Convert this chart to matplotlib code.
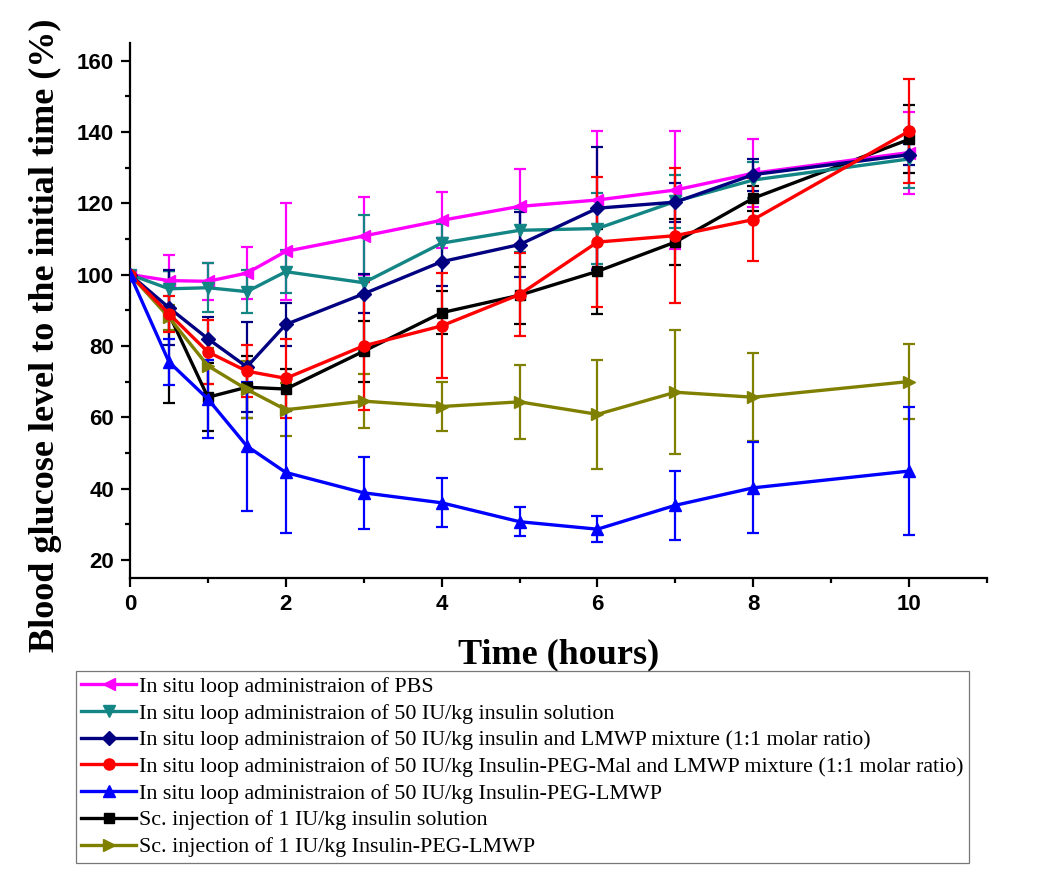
import matplotlib
matplotlib.use("Agg")
import matplotlib.pyplot as plt
from matplotlib.ticker import MultipleLocator

time_h = [0, 0.5, 1, 1.5, 2, 3, 4, 5, 6, 7, 8, 10]

labels = [
    "In situ loop administraion of PBS",
    "In situ loop administraion of 50 IU/kg insulin solution",
    "In situ loop administraion of 50 IU/kg insulin and LMWP mixture (1:1 molar ratio)",
    "In situ loop administraion of 50 IU/kg Insulin-PEG-Mal and LMWP mixture (1:1 molar ratio)",
    "In situ loop administraion of 50 IU/kg Insulin-PEG-LMWP",
    "Sc. injection of 1 IU/kg insulin solution",
    "Sc. injection of 1 IU/kg Insulin-PEG-LMWP",
]

pbs = [100, 98.3, 98.1, 100.4, 106.5, 110.8, 115.2, 119.1, 120.9, 123.7, 128.4, 134.2]
pbs_err = [0, 7.3, 5.2, 7.3, 13.5, 11, 7.9, 10.4, 19.3, 16.6, 9.6, 11.5]

ins_sol = [100, 96.0, 96.3, 95.2, 100.8, 97.7, 108.8, 112.4, 112.9, 120.5, 126.5, 132.4]
ins_sol_err = [0, 5, 6.8, 6, 6, 19, 5.5, 6, 10, 7.5, 5, 8]

ins_lmwp = [100, 90.7, 82.0, 74.1, 86.0, 94.6, 103.6, 108.4, 118.6, 120.3, 128.0, 133.6]
ins_lmwp_err = [0, 10.5, 6, 12.7, 6, 5.5, 6.7, 9, 17.2, 5.5, 4.5, 3]

peg_mal = [100, 89.0, 78.3, 72.9, 70.9, 80.0, 85.6, 94.4, 109.1, 110.9, 115.4, 140.2]
peg_mal_err = [0, 5, 9, 7.3, 11, 18, 14.7, 11.5, 18.3, 18.9, 11.7, 14.5]

peg_lmwp = [100, 75.5, 65.1, 51.9, 44.5, 38.8, 36.0, 30.7, 28.6, 35.3, 40.2, 44.9]
peg_lmwp_err = [0, 6.5, 11, 18.1, 17.1, 10.1, 6.9, 4.1, 3.7, 9.6, 12.8, 18]

sc_ins = [100, 88.9, 65.6, 68.4, 67.9, 78.5, 89.3, 94.2, 100.9, 109.1, 121.4, 137.9]
sc_ins_err_lo = [0, 25, 9.5, 8.7, 5.5, 8.5, 6, 8, 12, 6.5, 3.5, 9.5]
sc_ins_err_hi = [0, 12, 9.5, 8.7, 5.5, 8.5, 6, 8, 12, 6.5, 3.5, 9.5]

sc_peg = [100, 88.0, 74.4, 67.8, 62.1, 64.5, 63.0, 64.3, 60.8, 67.0, 65.6, 70.0]
sc_peg_err = [0, 3.5, 5, 8, 7.5, 7.5, 6.9, 10.3, 15.3, 17.4, 12.4, 10.5]

values = [pbs, ins_sol, ins_lmwp, peg_mal, peg_lmwp, sc_ins, sc_peg]
errors = [
    [pbs_err, pbs_err],
    [ins_sol_err, ins_sol_err],
    [ins_lmwp_err, ins_lmwp_err],
    [peg_mal_err, peg_mal_err],
    [peg_lmwp_err, peg_lmwp_err],
    [sc_ins_err_lo, sc_ins_err_hi],
    [sc_peg_err, sc_peg_err],
]
colors = ["#FF00FF", "#138585", "#000080", "#FF0000", "#0000FF", "#000000", "#808000"]
markers = ["<", "v", "D", "o", "^", "s", ">"]
msizes = [9, 9, 7, 8, 9, 7, 9]
zorders = [3.2, 3.3, 3.4, 3.5, 3.6, 3.0, 3.1]

fig = plt.figure(figsize=(10.5, 8.75), dpi=100)
W, H = 1050, 875
left, right, top, bottom = 130, 987, 42.7, 577.7
ax = fig.add_axes([left / W, 1 - bottom / H, (right - left) / W, (bottom - top) / H])

handles = []
for v, e, c, m, ms, z, lab in zip(values, errors, colors, markers, msizes, zorders, labels):
    ax.errorbar(time_h, v, yerr=e, fmt="none", ecolor=c, elinewidth=1.6,
                capsize=4.5, capthick=1.6, zorder=z - 1)
    h, = ax.plot(time_h, v, color=c, marker=m, markersize=ms, linewidth=2.4,
                 markeredgecolor=c, markerfacecolor=c, label=lab, zorder=z)
    handles.append(h)

ax.set_xlim(0, 11)
ax.set_ylim(15, 165)
ax.xaxis.set_major_locator(MultipleLocator(2))
ax.xaxis.set_minor_locator(MultipleLocator(1))
ax.yaxis.set_minor_locator(MultipleLocator(10))
ax.set_yticks([20, 40, 60, 80, 100, 120, 140, 160])

for s in ["top", "right"]:
    ax.spines[s].set_visible(False)
for s in ["left", "bottom"]:
    ax.spines[s].set_linewidth(1.6)

ax.tick_params(which="major", direction="out", length=6.5, width=1.6, pad=5,
               labelsize=16)
ax.tick_params(which="minor", direction="out", length=3.8, width=1.6)
for lbl in ax.get_xticklabels() + ax.get_yticklabels():
    lbl.set_fontfamily("Liberation Sans")
    lbl.set_fontweight("bold")

ax.set_xlabel("Time (hours)", fontsize=26, fontweight="bold",
              fontfamily="Liberation Serif")
ax.set_ylabel("Blood glucose level to the initial time (%)", fontsize=26,
              fontweight="bold", fontfamily="Liberation Serif")
ax.xaxis.label.set_va("center")
ax.yaxis.label.set_va("center")
ax.xaxis.set_label_coords(0.5, (bottom - 655) / (bottom - top))
ax.yaxis.set_label_coords((45 - left) / (right - left), (bottom - 335) / (bottom - top))

leg = fig.legend(handles=handles, loc="upper left",
                 bbox_to_anchor=(76 / W, 1 - 671 / H), bbox_transform=fig.transFigure,
                 prop={"family": "Liberation Serif", "size": 15.8},
                 frameon=True, fancybox=False, borderpad=0.25, labelspacing=0.29,
                 handlelength=2.5, handletextpad=0.12, borderaxespad=0, numpoints=1)
leg.get_frame().set_edgecolor("#555555")
leg.get_frame().set_linewidth(0.9)

fig.savefig("out.png", dpi=100)
